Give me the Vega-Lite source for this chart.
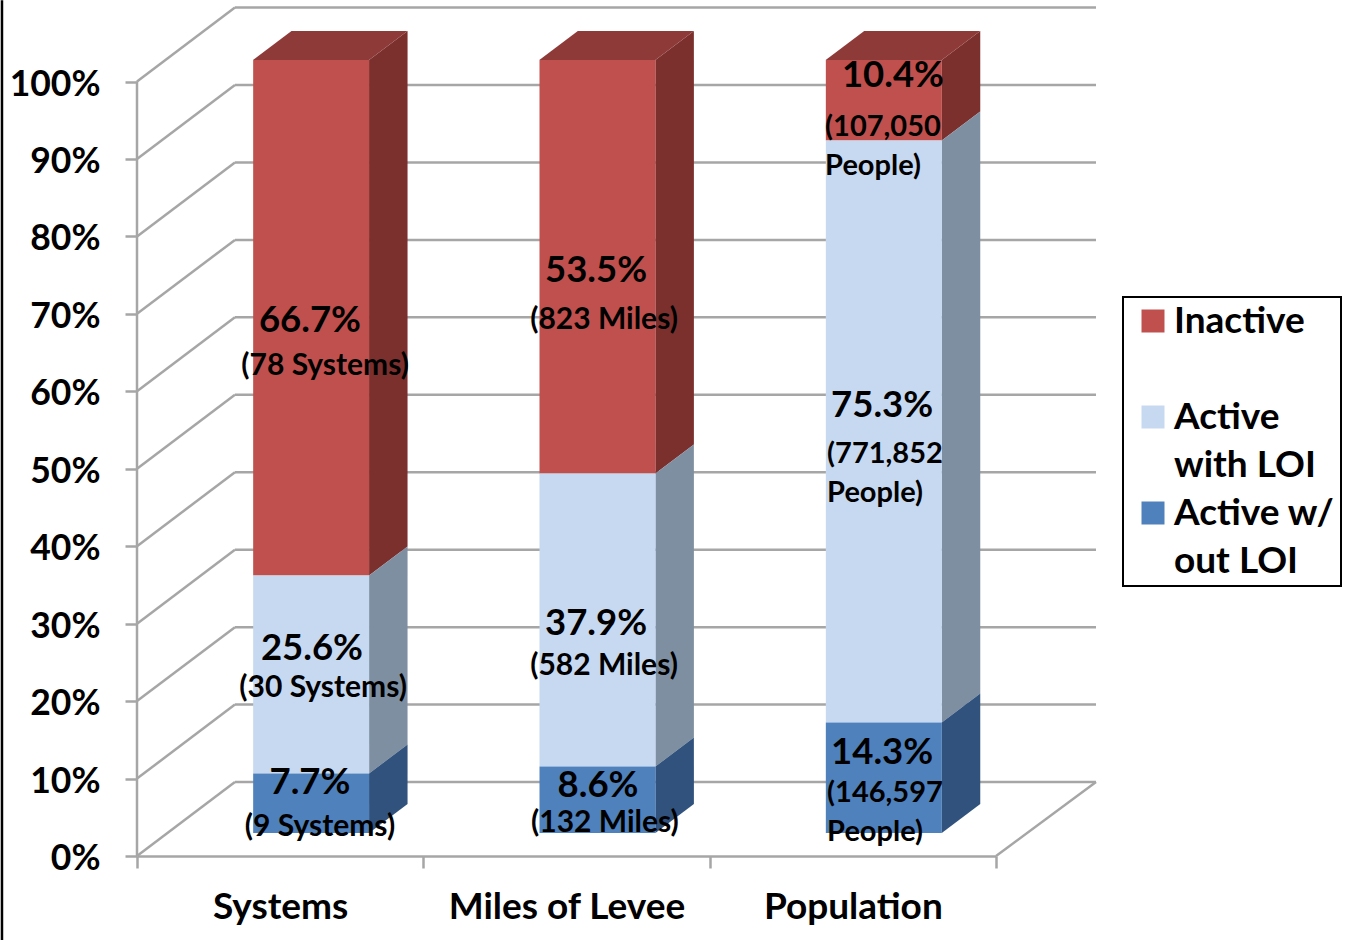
{
"$schema":"https://vega.github.io/schema/vega-lite/v6.json",
"autosize":{"type":"none"},
"padding":{"left":137,"top":8,"right":264,"bottom":84},
"width":959,"height":848,
"background":"white",
"config":{"view":{"stroke":null},"font":"Lato","text":{"font":"Lato"}},
"datasets":{
"segments":[
{"category":"Systems","series":"Inactive","pct":66.7,"note":"(78 Systems)","pctX":0.604,"pctY":69.05,"noteX":0.657,"noteY":63.25},
{"category":"Systems","series":"Active with LOI","pct":25.6,"note":"(30 Systems)","pctX":0.611,"pctY":26.75,"noteX":0.650,"noteY":21.65},
{"category":"Systems","series":"Active w/out LOI","pct":7.7,"note":"(9 Systems)","pctX":0.604,"pctY":9.45,"noteX":0.639,"noteY":3.75},
{"category":"Miles of Levee","series":"Inactive","pct":53.5,"note":"(823 Miles)","pctX":1.603,"pctY":75.55,"noteX":1.631,"noteY":69.25},
{"category":"Miles of Levee","series":"Active with LOI","pct":37.9,"note":"(582 Miles)","pctX":1.603,"pctY":29.95,"noteX":1.631,"noteY":24.55},
{"category":"Miles of Levee","series":"Active w/out LOI","pct":8.6,"note":"(132 Miles)","pctX":1.610,"pctY":9.05,"noteX":1.634,"noteY":4.25},
{"category":"Population","series":"Inactive","pct":10.4,"note":"(107,050\nPeople)","pctX":2.640,"pctY":100.75,"noteX":2.403,"noteY":94.15},
{"category":"Population","series":"Active with LOI","pct":75.3,"note":"(771,852\nPeople)","pctX":2.602,"pctY":58.15,"noteX":2.410,"noteY":51.85},
{"category":"Population","series":"Active w/out LOI","pct":14.3,"note":"(146,597\nPeople)","pctX":2.602,"pctY":13.35,"noteX":2.410,"noteY":8.15}
],
"ticks":[{"tick":0},{"tick":10},{"tick":20},{"tick":30},{"tick":40},{"tick":50},{"tick":60},{"tick":70},{"tick":80},{"tick":90},{"tick":100}],
"one":[{"id":1}]
},
"resolve":{"scale":{"x":"independent","y":"independent","color":"independent"}},
"layer":[
{
 "data":{"name":"ticks"},
 "transform":[{"calculate":"datum.tick+9.55","as":"back"}],
 "layer":[
  {"mark":{"type":"rule","color":"#A6A6A6","strokeWidth":2.5},
   "encoding":{
    "x":{"datum":0.342,"type":"quantitative","scale":{"domain":[0,3.349],"nice":false,"zero":false},"axis":null},
    "x2":{"datum":3.349},
    "y":{"field":"back","type":"quantitative","scale":{"domain":[0,109.49],"nice":false},
     "axis":{"title":null,"orient":"left","values":[0,10,20,30,40,50,60,70,80,90,100],"labelExpr":"datum.value+'%'","grid":false,"domain":false,"tickSize":12,"tickColor":"#A6A6A6","tickWidth":2.5,"labelPadding":25,"labelOffset":2.5,"labelFont":"Lato","labelFontWeight":"bold","labelFontSize":35.5,"labelColor":"#000000"}}
   }},
  {"mark":{"type":"rule","color":"#A6A6A6","strokeWidth":2.5},
   "encoding":{
    "x":{"datum":0,"type":"quantitative"},
    "x2":{"datum":0.342},
    "y":{"field":"tick","type":"quantitative"},
    "y2":{"field":"back"}
   }},
  {"data":{"name":"one"},"mark":{"type":"rule","color":"#A6A6A6","strokeWidth":2.5},
   "encoding":{"x":{"datum":0,"type":"quantitative"},"y":{"datum":0,"type":"quantitative"},"y2":{"datum":100}}},
  {"data":{"name":"one"},"mark":{"type":"rule","color":"#A6A6A6","strokeWidth":2.5},
   "encoding":{"x":{"datum":3,"type":"quantitative"},"x2":{"datum":3.349},"y":{"datum":0,"type":"quantitative"},"y2":{"datum":9.55}}},
  {"data":{"name":"one"},"mark":{"type":"rule","color":"#000000","strokeWidth":2.5,"clip":false},
   "encoding":{"x":{"datum":-0.4715,"type":"quantitative"},"y":{"datum":-10.85,"type":"quantitative"},"y2":{"datum":110.5}}}
 ]
},
{
 "data":{"name":"segments"},
 "transform":[
  {"stack":"pct","groupby":["category"],"sort":[{"field":"series","order":"ascending"}],"as":["p0","p1"]},
  {"calculate":"indexof(['Systems','Miles of Levee','Population'],datum.category)","as":"idx"},
  {"calculate":"[0,1]","as":"d"},
  {"flatten":["d"]},
  {"calculate":"datum.idx+0.8103+datum.d*0.1345","as":"sideX"},
  {"calculate":"datum.idx+0.405+datum.d*0.1345","as":"topL"},
  {"calculate":"datum.p0+datum.d*3.75","as":"sideLow"},
  {"calculate":"datum.p1+datum.d*3.75","as":"sideHigh"}
 ],
 "layer":[
  {"mark":{"type":"area","orient":"vertical"},
   "encoding":{
    "x":{"field":"sideX","type":"quantitative","scale":{"domain":[0,3.349],"nice":false,"zero":false},"axis":null},
    "y":{"field":"sideLow","type":"quantitative","scale":{"domain":[0,100],"range":[825,52],"nice":false},"axis":null},
    "y2":{"field":"sideHigh"},
    "detail":{"field":"category"},
    "color":{"field":"series","type":"nominal","legend":null,"scale":{"domain":["Inactive","Active with LOI","Active w/out LOI"],"range":["#7B302E","#7F8FA2","#31527C"]}}
   }},
  {"transform":[{"filter":"datum.series=='Inactive'"}],
   "mark":{"type":"area","orient":"horizontal","color":"#8E3A38"},
   "encoding":{
    "y":{"field":"sideHigh","type":"quantitative"},
    "x":{"field":"topL","type":"quantitative"},
    "x2":{"field":"sideX"},
    "detail":{"field":"category"}
   }}
 ]
},
{
 "data":{"name":"segments"},
 "transform":[
  {"stack":"pct","groupby":["category"],"sort":[{"field":"series","order":"ascending"}],"as":["p0","p1"]}
 ],
 "mark":{"type":"bar","width":116,"xOffset":31},
 "encoding":{
  "x":{"field":"category","type":"nominal","sort":["Systems","Miles of Levee","Population"],
   "scale":{"domain":["Systems","Miles of Levee","Population"],"range":[0,859],"paddingInner":0,"paddingOuter":0},
   "axis":{"title":null,"orient":"bottom","labelAngle":0,"tickBand":"extent","tickSize":12,"tickColor":"#A6A6A6","tickWidth":2.5,"domainColor":"#A6A6A6","domainWidth":2.5,"labelPadding":21,"labelLimit":400,"labelFont":"Lato","labelFontWeight":"bold","labelFontSize":37,"labelColor":"#000000"}},
  "y":{"field":"p0","type":"quantitative","scale":{"domain":[0,100],"range":[825,52],"nice":false},"axis":null},
  "y2":{"field":"p1"},
  "color":{"field":"series","type":"nominal",
   "scale":{"domain":["Inactive","Active with LOI","Active w/out LOI"],"range":["#C0504D","#C6D9F1","#4F81BD"]},
   "legend":{"title":null,"orient":"none","legendX":986,"legendY":289,"strokeColor":"#000000","fillColor":"#ffffff","padding":6,"rowPadding":10,"symbolType":"square","symbolSize":529,"symbolStrokeWidth":0,"symbolOffset":5.5,"labelOffset":2.5,"labelFont":"Lato","labelFontWeight":"bold","labelFontSize":37,"labelColor":"#000000","labelLimit":300,
    "labelExpr":"datum.label=='Inactive'?['Inactive','']:datum.label=='Active with LOI'?['Active','with LOI']:['Active w/\u00a0\u00a0','out LOI']",
    "encode":{"legend":{"update":{"strokeWidth":{"value":2}}},"labels":{"update":{"lineHeight":{"value":48}}},"symbols":{"update":{"y":{"value":18}}}}}}
 }
},
{
 "data":{"name":"segments"},
 "transform":[{"calculate":"format(datum.pct,'.1f')+'%'","as":"pctText"}],
 "mark":{"type":"text","font":"Lato","fontWeight":"bold","fontSize":36.5,"color":"#000000","align":"center","baseline":"middle"},
 "encoding":{
  "x":{"field":"pctX","type":"quantitative","scale":{"domain":[0,3.349],"nice":false,"zero":false},"axis":null},
  "y":{"field":"pctY","type":"quantitative","scale":{"domain":[0,109.49],"nice":false},"axis":null},
  "text":{"field":"pctText"}
 }
},
{
 "data":{"name":"segments"},
 "transform":[{"filter":"datum.category!='Population'"}],
 "mark":{"type":"text","font":"Lato","fontWeight":"bold","fontSize":30,"color":"#000000","align":"center","baseline":"middle"},
 "encoding":{
  "x":{"field":"noteX","type":"quantitative","scale":{"domain":[0,3.349],"nice":false,"zero":false},"axis":null},
  "y":{"field":"noteY","type":"quantitative","scale":{"domain":[0,109.49],"nice":false},"axis":null},
  "text":{"field":"note"}
 }
},
{
 "data":{"name":"segments"},
 "transform":[{"filter":"datum.category=='Population'"}],
 "mark":{"type":"text","font":"Lato","fontWeight":"bold","fontSize":29,"lineBreak":"\n","lineHeight":39,"color":"#000000","align":"left","baseline":"middle"},
 "encoding":{
  "x":{"field":"noteX","type":"quantitative","scale":{"domain":[0,3.349],"nice":false,"zero":false},"axis":null},
  "y":{"field":"noteY","type":"quantitative","scale":{"domain":[0,109.49],"nice":false},"axis":null},
  "text":{"field":"note"}
 }
}
]
}
